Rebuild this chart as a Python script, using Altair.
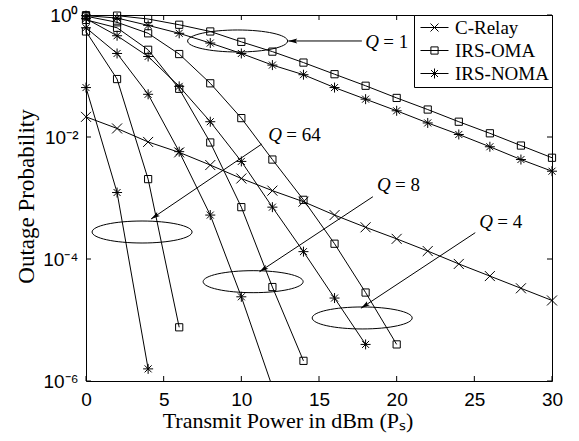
import altair as alt
import pandas as pd

# ---------------- data ----------------
power = [0, 2, 4, 6, 8, 10, 12, 14, 16, 18, 20, 22, 24, 26, 28, 30]

c_relay = [2.14e-2, 1.38e-2, 8.3e-3, 5.6e-3, 3.47e-3, 2.09e-3, 1.32e-3, 8.7e-4,
           5.25e-4, 3.31e-4, 2.14e-4, 1.35e-4, 8.3e-5, 5.25e-5, 3.31e-5, 2.09e-5]

q1_oma = [0.993, 0.977, 0.859, 0.692, 0.537, 0.363, 0.251, 0.166,
          0.107, 0.0692, 0.0437, 0.0282, 0.0178, 0.0115, 7.24e-3, 4.57e-3]
q1_noma = [0.977, 0.891, 0.676, 0.501, 0.347, 0.234, 0.151, 0.105,
           0.0646, 0.0417, 0.0269, 0.0170, 0.0110, 6.92e-3, 4.27e-3, 2.75e-3]

q4_oma = [0.955, 0.759, 0.501, 0.229, 0.0759, 0.0204, 4.27e-3, 9.33e-4, 1.78e-4, 2.82e-5, 3.98e-6]
q4_noma = [0.871, 0.457, 0.209, 0.0676, 0.0178, 3.98e-3, 7.08e-4, 1.32e-4, 2.29e-5, 3.98e-6]

q8_oma = [0.832, 0.617, 0.269, 0.0617, 8.13e-3, 7.08e-4, 3.47e-5, 2.14e-6]
q8_noma = [0.617, 0.234, 0.0501, 5.75e-3, 5.25e-4, 2.40e-5, 7.94e-7]

q64_oma = [0.537, 0.0891, 2.04e-3, 7.59e-6]
q64_noma = [0.0646, 1.23e-3, 1.58e-6]

schemes = ["C-Relay", "IRS-OMA", "IRS-NOMA"]

x_ticks = [0, 5, 10, 15, 20, 25, 30]
y_ticks = [1, 1e-2, 1e-4, 1e-6]
y_tick_labels = ["10⁰", "10⁻²", "10⁻⁴", "10⁻⁶"]

# annotations (Q groups)
q_labels = ["1", "64", "8", "4"]
ell_x = [9.76, 3.61, 10.76, 17.78]
ell_y = [0.375, 2.77e-4, 4.25e-5, 1.08e-5]
arr_x1 = [17.76, 11.32, 18.47, 25.06]
arr_y1 = [0.375, 7.67e-3, 1.05e-3, 2.70e-4]
arr_x2 = [13.02, 4.19, 11.17, 17.70]
arr_y2 = [0.375, 4.53e-4, 6.19e-5, 1.56e-5]
arr_angle = [180, 146.2, 146.5, 146.5]
txt_x = [17.98, 11.73, 18.73, 25.32]
txt_y = [0.362, 0.01079, 1.633e-3, 4.08e-4]

# ---------------- tables ----------------
rows = []
def add(scheme, q, vals):
    for p, v in zip(power, vals):
        rows.append({"P": p, "Pout": v, "Scheme": scheme, "Series": f"{scheme} Q={q}"})

add("C-Relay", "-", c_relay)
add("IRS-OMA", 1, q1_oma)
add("IRS-NOMA", 1, q1_noma)
add("IRS-OMA", 4, q4_oma)
add("IRS-NOMA", 4, q4_noma)
add("IRS-OMA", 8, q8_oma)
add("IRS-NOMA", 8, q8_noma)
add("IRS-OMA", 64, q64_oma)
add("IRS-NOMA", 64, q64_noma)
df = pd.DataFrame(rows)

ann = pd.DataFrame({
    "q": ["= " + q for q in q_labels],
    "ex": ell_x, "ey": ell_y,
    "ax1": arr_x1, "ay1": arr_y1, "ax2": arr_x2, "ay2": arr_y2,
    "ang": arr_angle, "tx": txt_x, "ty": txt_y,
})
xt = pd.DataFrame({"v": x_ticks})
yt = pd.DataFrame({"v": y_ticks})

W, H = 466, 366
SERIF = "Liberation Serif"
SANS = "Liberation Sans"

marker_paths = [
    "M-1,-1L1,1M-1,1L1,-1",
    "M-0.72,-0.72L0.72,-0.72L0.72,0.72L-0.72,0.72Z",
    "M-1,0L1,0M0,-1L0,1M-0.7,-0.7L0.7,0.7M-0.7,0.7L0.7,-0.7",
]
legend_paths = [
    "M-2.8,0L2.8,0M-0.8,-0.8L0.8,0.8M-0.8,0.8L0.8,-0.8",
    "M-2.8,0L2.8,0M-0.72,-0.72L0.72,-0.72L0.72,0.72L-0.72,0.72Z",
    "M-2.8,0L2.8,0M0,-1L0,1M-0.7,-0.7L0.7,0.7M-0.7,0.7L0.7,-0.7",
]

label_expr = " : ".join(
    [f"datum.value > {v*0.5} ? '{l}'" for v, l in zip(y_ticks[:-1], y_tick_labels[:-1])]
) + f" : '{y_tick_labels[-1]}'"

xenc = alt.X("P:Q", scale=alt.Scale(domain=[0, 30], nice=False, zero=False),
             axis=alt.Axis(values=x_ticks, ticks=False, domain=False, grid=False,
                           labelFont=SANS, labelFontSize=19, labelColor="black",
                           labelPadding=9, labelFlush=False,
                           title="Transmit Power in dBm (Pₛ)", titleFont=SERIF,
                           titleFontSize=22, titleFontWeight="normal", titleColor="black",
                           titleX=201.5, titleY=46, titleAlign="center",
                           titleBaseline="alphabetic"))
yenc = alt.Y("Pout:Q", scale=alt.Scale(type="log", domain=[1e-6, 1], nice=False),
             axis=alt.Axis(values=y_ticks, labelExpr=label_expr, ticks=False, domain=False,
                           grid=False, labelFont=SANS, labelFontSize=19, labelColor="black",
                           labelPadding=8, labelFlush=False,
                           title="Outage Probability", titleFont=SERIF, titleFontSize=23,
                           titleFontWeight="normal", titleColor="black", titleAngle=270,
                           titleX=-53, titleY=181, titleAlign="center",
                           titleBaseline="alphabetic"))

lines = alt.Chart(df).mark_line(color="black", strokeWidth=1, clip=True).encode(
    x=xenc, y=yenc, detail="Series:N")

points = alt.Chart(df).transform_filter("datum.Pout >= 1e-6").mark_point(
    filled=False, color="black", strokeWidth=1, size=100, opacity=1).encode(
    x="P:Q", y="Pout:Q",
    shape=alt.Shape("Scheme:N", scale=alt.Scale(domain=schemes, range=marker_paths), legend=None))

legend_layer = alt.Chart(df).mark_point(
    filled=False, color="black", strokeWidth=1, size=100, opacity=0).encode(
    x="P:Q", y="Pout:Q",
    shape=alt.Shape("Scheme2:N", scale=alt.Scale(domain=schemes, range=legend_paths),
                    legend=alt.Legend(title=None, orient="top-right", offset=0, padding=3,
                                      strokeColor="black", fillColor="white",
                                      labelFont=SERIF, labelFontSize=19, labelColor="black",
                                      symbolSize=100, symbolStrokeWidth=1,
                                      symbolStrokeColor="black", symbolOpacity=1,
                                      symbolOffset=8, labelOffset=11, rowPadding=3,
                                      labelLimit=200))
).transform_calculate(Scheme2="datum.Scheme")

ellipses = alt.Chart(ann).mark_point(
    shape="M-1,0A1,0.22,0,1,0,1,0A1,0.22,0,1,0,-1,0", size=10000, filled=False,
    color="black", strokeWidth=1, opacity=1).encode(x="ex:Q", y="ey:Q")

arrows = alt.Chart(ann).mark_rule(color="black", strokeWidth=1).encode(
    x="ax1:Q", y="ay1:Q", x2="ax2:Q", y2="ay2:Q")

heads = alt.Chart(ann).mark_point(
    shape="M0,0L-2,-0.55L-1.6,0L-2,0.55Z", size=81, filled=True, color="black",
    opacity=1).encode(x="ax2:Q", y="ay2:Q", angle=alt.Angle("ang:Q", scale=None))

qtxt = alt.Chart(ann).mark_text(text="Q", font=SERIF, fontStyle="italic", fontSize=19,
                                align="left", baseline="middle", color="black").encode(
    x="tx:Q", y="ty:Q")
qval = alt.Chart(ann).mark_text(font=SERIF, fontSize=19, align="left", baseline="middle",
                                color="black", dx=18).encode(
    x="tx:Q", y="ty:Q", text="q:N")

xt_bottom = alt.Chart(xt).mark_rule(color="black").encode(
    x="v:Q", y=alt.value(H), y2=alt.value(H - 5))
xt_top = alt.Chart(xt).mark_rule(color="black").encode(
    x="v:Q", y=alt.value(0), y2=alt.value(5))
yt_left = alt.Chart(yt).mark_rule(color="black").encode(
    y="v:Q", x=alt.value(0), x2=alt.value(5))
yt_right = alt.Chart(yt).mark_rule(color="black").encode(
    y="v:Q", x=alt.value(W), x2=alt.value(W - 5))

chart = alt.layer(
    lines, points, legend_layer, ellipses, arrows, heads, qtxt, qval,
    xt_bottom, xt_top, yt_left, yt_right
).resolve_scale(shape="independent").properties(
    width=W, height=H,
    autosize=alt.AutoSizeParams(type="none"),
    padding={"left": 86, "top": 15, "right": 27, "bottom": 60},
    background="white",
).configure_view(stroke="black", strokeWidth=1)

chart.save("out.html", embed_options={"renderer": "svg", "actions": False})
